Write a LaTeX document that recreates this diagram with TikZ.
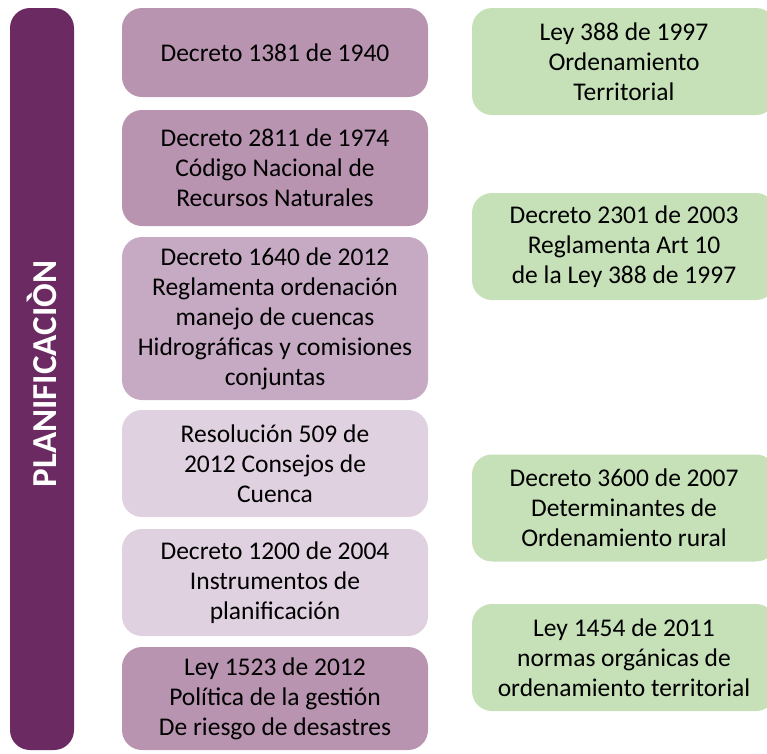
\documentclass[tikz,border=0pt]{standalone}
\usepackage{fontspec}
\setmainfont{Carlito}
\usepackage{tikz}
\usetikzlibrary{positioning}
\definecolor{barPurple}{HTML}{6B2A62}
\definecolor{midPurple}{HTML}{B894B0}
\definecolor{softPurple}{HTML}{C6AAC4}
\definecolor{palePurple}{HTML}{E0D1E0}
\definecolor{leafGreen}{HTML}{C6E0B8}
\newcommand{\normBox}[5]{\node[normbox, fill=#2, minimum height=#4] (#1) at #3 {#5}}

\begin{document}
\begin{tikzpicture}[x=1pt, y=-1pt,
    normbox/.style={rounded corners=20pt, minimum width=306pt, inner sep=0pt,
                    align=center, font=\fontsize{25.5}{30}\selectfont},
    greenbox/.style={normbox, fill=leafGreen, minimum width=304pt, minimum height=107pt}]
                \useasboundingbox (0,0) rectangle (767,753);
                \node[fill=barPurple, rounded corners=20pt, minimum width=64pt, minimum height=742pt,
                      inner sep=0pt] (bar) at (42,379) {};
                \node[rotate=90, text=white, font=\fontsize{35}{40}\bfseries] (title) at (42,374) {PLANIFICACIÒN};
                % purple column
                \normBox{dec1381}{midPurple}{(275,52.5)}{89pt}{Decreto 1381 de 1940};
                \normBox{dec2811}{midPurple}{(275,168)}{116pt}{Decreto 2811 de 1974\\Código Nacional de\\Recursos Naturales};
                \normBox{dec1640}{softPurple}{(275,318.5)}{163pt}{Decreto 1640 de 2012\\Reglamenta ordenación\\manejo de cuencas\\Hidrográficas y comisiones\\conjuntas};
                \normBox{res509}{palePurple}{(275,463.5)}{107pt}{Resolución 509 de\\2012 Consejos de\\Cuenca};
                \normBox{dec1200}{palePurple}{(275,582.5)}{107pt}{Decreto 1200 de 2004\\Instrumentos de\\planificación};
                \normBox{ley1523}{midPurple}{(275,698.5)}{103pt}{Ley 1523 de 2012\\Política de la gestión\\De riesgo de desastres};
                % green column
                \node[greenbox] (ley388) at (624,61.5) {Ley 388 de 1997\\Ordenamiento\\Territorial};
                \node[greenbox] (dec2301) at (624,246.5) {Decreto 2301 de 2003\\Reglamenta Art 10\\de la Ley 388 de 1997};
                \node[greenbox] (dec3600) at (624,508) {Decreto 3600 de 2007\\Determinantes de\\Ordenamiento rural};
                \node[greenbox] (ley1454) at (624,657.5) {Ley 1454 de 2011\\normas orgánicas de\\ordenamiento territorial};
              \end{tikzpicture}
\end{document}
